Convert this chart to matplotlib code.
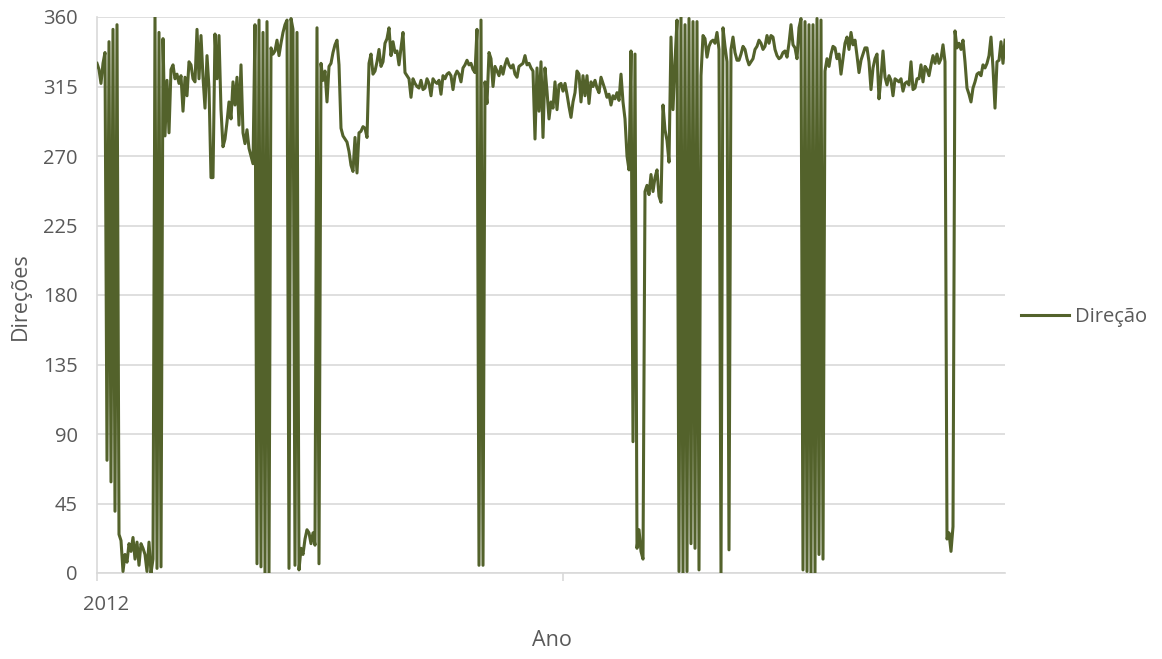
import matplotlib
matplotlib.use("Agg")
import matplotlib.pyplot as plt
import numpy as np

# Daily wind direction (degrees)
direcao = [
    330, 326, 317, 330, 337, 73, 344, 59, 352, 40,
    355, 25, 21, 1, 12, 7, 19, 14, 23, 9,
    20, 5, 19, 16, 12, 1, 20, 0, 9, 360,
    3, 350, 4, 346, 283, 319, 285, 326, 329, 320,
    323, 317, 322, 299, 321, 309, 331, 329, 320, 318,
    352, 320, 348, 321, 301, 335, 314, 256, 256, 349,
    320, 348, 300, 276, 281, 292, 305, 294, 318, 303,
    321, 290, 329, 285, 278, 287, 275, 270, 265, 355,
    6, 358, 4, 350, 0, 357, 0, 340, 336, 338,
    345, 335, 343, 350, 355, 358, 3, 359, 352, 5,
    350, 2, 16, 12, 22, 28, 26, 19, 26, 18,
    353, 6, 330, 319, 325, 305, 328, 330, 337, 342,
    345, 329, 288, 283, 281, 279, 273, 264, 260, 282,
    259, 285, 286, 289, 288, 282, 330, 336, 323, 325,
    331, 339, 328, 331, 343, 346, 353, 335, 344, 337,
    338, 329, 340, 350, 324, 322, 320, 308, 320, 317,
    315, 314, 319, 313, 314, 320, 317, 309, 320, 318,
    317, 319, 310, 322, 320, 323, 324, 322, 313, 322,
    325, 323, 318, 327, 329, 332, 329, 330, 326, 324,
    352, 5, 358, 5, 318, 304, 337, 333, 315, 328,
    325, 322, 328, 323, 329, 333, 329, 327, 329, 323,
    321, 328, 329, 330, 335, 329, 330, 327, 325, 281,
    327, 299, 331, 282, 327, 312, 294, 305, 301, 318,
    300, 316, 317, 312, 317, 310, 302, 295, 305, 311,
    325, 323, 305, 322, 309, 322, 304, 318, 315, 319,
    314, 311, 321, 317, 313, 308, 310, 303, 309, 307,
    311, 306, 323, 305, 294, 270, 261, 338, 85, 336,
    16, 28, 14, 9, 247, 251, 245, 258, 247, 256,
    261, 244, 240, 303, 287, 280, 266, 347, 300, 331,
    358, 1, 360, 0, 355, 1, 359, 19, 357, 16,
    357, 2, 322, 348, 346, 334, 341, 344, 345, 343,
    350, 339, 0, 353, 341, 331, 15, 339, 347, 337,
    332, 332, 336, 341, 339, 333, 329, 331, 333, 339,
    341, 345, 343, 339, 341, 348, 343, 348, 347, 339,
    335, 333, 334, 337, 338, 334, 343, 355, 342, 340,
    333, 353, 359, 2, 357, 1, 355, 0, 355, 0,
    359, 12, 358, 9, 325, 333, 328, 336, 341, 340,
    333, 336, 323, 333, 343, 347, 339, 350, 342, 345,
    335, 324, 332, 336, 340, 340, 331, 313, 327, 333,
    336, 307, 321, 338, 321, 316, 322, 319, 309, 320,
    319, 318, 320, 312, 317, 318, 316, 331, 313, 314,
    320, 320, 329, 318, 328, 326, 322, 329, 335, 330,
    336, 330, 333, 342, 331, 22, 26, 14, 30, 351,
    340, 343, 339, 345, 331, 314, 310, 305, 314, 318,
    323, 324, 322, 329, 327, 330, 335, 347, 327, 301,
    331, 332, 344, 330, 345,
]

ano_label = "2012"
y_ticks = [0, 45, 90, 135, 180, 225, 270, 315, 360]
year_tick_idx = [0, 233]

LINE = "#53622B"
GRID = "#D9D9D9"
TXT = "#595959"
FONT = ["Open Sans", "DejaVu Sans"]
FS = 14.5

plt.rcParams["font.family"] = FONT

W, H = 1162, 659
fig = plt.figure(figsize=(W / 100, H / 100), dpi=100)
ax = fig.add_axes([97 / W, 1 - 573 / H, (1005 - 97) / W, (573 - 17) / H])

x = np.arange(len(direcao))
ax.plot(x, direcao, color=LINE, lw=2.2, label="Direção",
        solid_joinstyle="round", zorder=3)

ax.set_xlim(0, len(direcao) - 1)
ax.set_ylim(0, 360)
ax.set_yticks(y_ticks)
ax.grid(axis="y", color=GRID, lw=1.2)
ax.set_axisbelow(True)
for s in ["top", "right"]:
    ax.spines[s].set_visible(False)
ax.spines["left"].set_color(GRID)
ax.spines["left"].set_linewidth(1.2)
ax.spines["bottom"].set_color(GRID)
ax.spines["bottom"].set_linewidth(1.2)

ax.set_xticks(year_tick_idx)
ax.set_xticklabels(["", ""])
ax.tick_params(axis="x", length=6, width=1.2, color=GRID)
ax.tick_params(axis="y", length=0, pad=14, labelsize=FS, labelcolor=TXT)

fig.text(106 / W, 1 - 605 / H, ano_label, ha="center", va="center",
         fontsize=FS, color=TXT)
fig.text(552 / W, 1 - 641 / H, "Ano", ha="center", va="center",
         fontsize=FS + 1, color=TXT)
fig.text(20 / W, 1 - 296 / H, "Direções", ha="center", va="center",
         rotation=90, fontsize=FS + 1, color=TXT)

leg = ax.legend(loc="center left", bbox_to_anchor=(1021 / W, 1 - 317 / H),
                bbox_transform=fig.transFigure, frameon=False,
                handlelength=2.4, handletextpad=0.3, fontsize=FS,
                borderaxespad=0, borderpad=0)
for t in leg.get_texts():
    t.set_color(TXT)

fig.savefig("out.png", dpi=100)
